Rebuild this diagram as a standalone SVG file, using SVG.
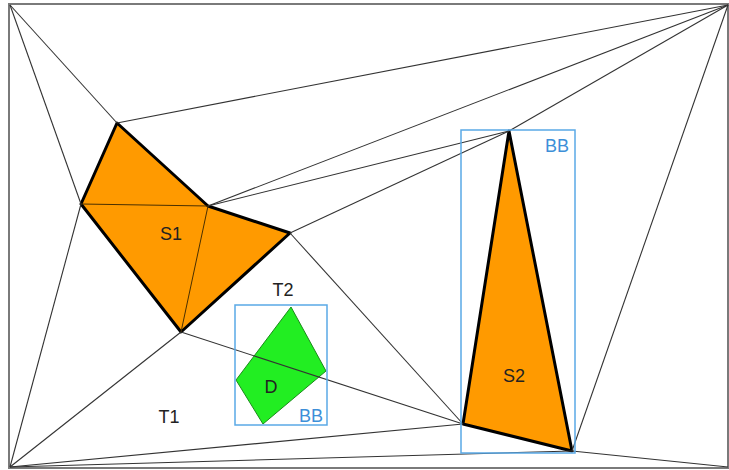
<svg xmlns="http://www.w3.org/2000/svg" width="729" height="470" viewBox="0 0 729 470">
<style>
.frame{fill:#fff;stroke:#7a7a7a;stroke-width:2}
.tri{stroke:#333;stroke-width:1.1;fill:none}
.obst{fill:#ff9a00;stroke:#000;stroke-width:3;stroke-linejoin:round}
.inner{stroke:#4a3000;stroke-width:1;fill:none}
.dyn{fill:#22ee22;stroke:#1a8a1a;stroke-width:1}
.bb{fill:none;stroke:#5aa9e6;stroke-width:1.5}
.lbl{font-family:"Liberation Sans",Arial,sans-serif;font-size:18px;fill:#222;text-anchor:middle}
.bbl{font-family:"Liberation Sans",Arial,sans-serif;font-size:18px;fill:#3d8fd8;text-anchor:middle}
</style>
<rect class="frame" x="9" y="4" width="719" height="464"/>
<g id="S1">
<polygon class="obst" points="117,123 208,206 290,233 181,332 81,204"/>
<line class="inner" x1="81" y1="204" x2="208" y2="206"/>
<line class="inner" x1="208" y1="206" x2="181" y2="332"/>
<text class="lbl" x="171" y="240">S1</text>
</g>
<g id="S2">
<polygon class="obst" points="509,131 572,451 463,424"/>
<text class="lbl" x="514" y="382">S2</text>
</g>
<g id="D">
<polygon class="dyn" points="291,307 326,371 263,424 236,380"/>
<text class="lbl" x="271" y="393">D</text>
</g>
<g id="connectors">
<line class="tri" x1="10" y1="5" x2="117" y2="123"/>
<line class="tri" x1="10" y1="5" x2="81" y2="204"/>
<line class="tri" x1="117" y1="123" x2="728" y2="5"/>
<line class="tri" x1="208" y1="206" x2="728" y2="5"/>
<line class="tri" x1="208" y1="206" x2="509" y2="131"/>
<line class="tri" x1="290" y1="233" x2="509" y2="131"/>
<line class="tri" x1="509" y1="131" x2="728" y2="5"/>
<line class="tri" x1="290" y1="233" x2="463" y2="424"/>
<line class="tri" x1="181" y1="332" x2="463" y2="424"/>
<line class="tri" x1="181" y1="332" x2="10" y2="467"/>
<line class="tri" x1="81" y1="204" x2="10" y2="467"/>
<line class="tri" x1="10" y1="467" x2="463" y2="424"/>
<line class="tri" x1="10" y1="467" x2="572" y2="451"/>
<line class="tri" x1="572" y1="451" x2="728" y2="467"/>
<line class="tri" x1="572" y1="451" x2="728" y2="5"/>
</g>
<g id="BB1">
<rect class="bb" x="461" y="130" width="114" height="323"/>
<text class="bbl" x="557" y="152">BB</text>
</g>
<g id="BB2">
<rect class="bb" x="235" y="305" width="92" height="120"/>
<text class="bbl" x="311" y="422">BB</text>
</g>
<g id="labels">
<text class="lbl" x="283" y="296">T2</text>
<text class="lbl" x="169" y="423">T1</text>
</g>
</svg>
